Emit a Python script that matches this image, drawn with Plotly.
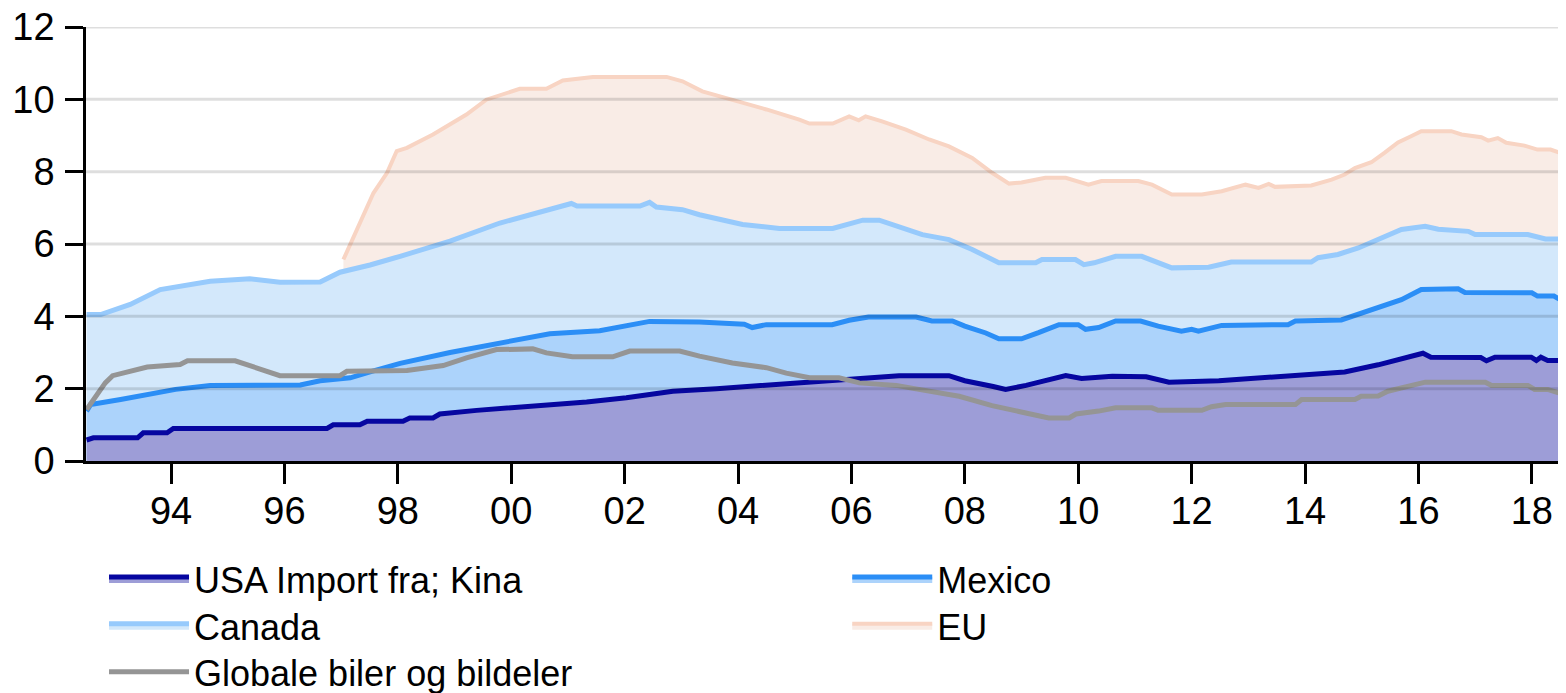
import plotly.graph_objects as go

# ---- data (years as decimal, values in %) ----
china_x = [1992.51, 1992.63, 1993.41, 1993.51, 1993.93, 1994.04, 1996.75, 1996.86, 1997.33, 1997.46,
           1998.09, 1998.21, 1998.62, 1998.74, 1999.39, 2000.5, 2001.33, 2002.03, 2002.44, 2002.85,
           2003.62, 2004.6, 2005.08, 2005.78, 2006.84, 2007.72, 2008.0, 2008.5, 2008.72, 2009.08,
           2009.48, 2009.78, 2010.06, 2010.6, 2011.2, 2011.6, 2012.48, 2013.7, 2014.7, 2015.29,
           2015.7, 2016.08, 2016.22, 2017.1, 2017.2, 2017.35, 2017.99, 2018.08, 2018.16, 2018.28, 2018.5]
china_y = [0.58, 0.64, 0.64, 0.78, 0.78, 0.9, 0.9, 1.0, 1.0, 1.1,
           1.1, 1.19, 1.19, 1.3, 1.4, 1.52, 1.63, 1.75, 1.84, 1.93,
           2.0, 2.1, 2.15, 2.25, 2.36, 2.36, 2.22, 2.06, 1.98, 2.09,
           2.25, 2.36, 2.28, 2.34, 2.33, 2.18, 2.22, 2.34, 2.46, 2.66,
           2.84, 2.98, 2.87, 2.86, 2.77, 2.87, 2.87, 2.78, 2.87, 2.78, 2.78]

mexico_x = [1992.51, 1992.58, 1993.11, 1993.64, 1994.08, 1994.69, 1996.28, 1996.63, 1997.16, 1997.54,
            1998.04, 1998.92, 1999.8, 2000.68, 2001.56, 2002.44, 2003.32, 2004.11, 2004.25, 2004.5,
            2005.66, 2005.96, 2006.3, 2007.14, 2007.42, 2007.78, 2008.0, 2008.37, 2008.6, 2009.0,
            2009.3, 2009.66, 2010.0, 2010.13, 2010.36, 2010.66, 2011.1, 2011.41, 2011.82, 2012.0,
            2012.12, 2012.53, 2013.7, 2013.83, 2014.64, 2014.88, 2015.23, 2015.7, 2016.05, 2016.7,
            2016.82, 2018.0, 2018.1, 2018.39, 2018.5]
mexico_y = [1.38, 1.56, 1.7, 1.84, 1.98, 2.09, 2.1, 2.22, 2.3, 2.48,
            2.7, 3.0, 3.27, 3.52, 3.6, 3.86, 3.84, 3.78, 3.69, 3.77,
            3.77, 3.89, 3.98, 3.98, 3.87, 3.87, 3.73, 3.54, 3.38, 3.38,
            3.55, 3.77, 3.77, 3.64, 3.69, 3.87, 3.87, 3.73, 3.59, 3.64,
            3.59, 3.75, 3.77, 3.87, 3.9, 4.03, 4.23, 4.46, 4.74, 4.76,
            4.66, 4.65, 4.56, 4.56, 4.46]

canada_x = [1992.51, 1992.76, 1993.28, 1993.81, 1994.69, 1995.39, 1995.92, 1996.63, 1996.98, 1997.51,
            1998.04, 1998.92, 1999.8, 2000.68, 2001.06, 2001.16, 2002.27, 2002.44, 2002.56, 2003.02,
            2003.32, 2004.08, 2004.73, 2005.67, 2006.2, 2006.49, 2006.79, 2007.25, 2007.72, 2008.13,
            2008.6, 2009.25, 2009.36, 2009.95, 2010.1, 2010.28, 2010.66, 2011.12, 2011.65, 2012.3,
            2012.7, 2014.11, 2014.23, 2014.58, 2014.94, 2015.29, 2015.7, 2016.12, 2016.35, 2016.88,
            2017.0, 2017.93, 2018.24, 2018.5]
canada_y = [4.05, 4.05, 4.33, 4.74, 4.97, 5.04, 4.94, 4.95, 5.22, 5.42,
            5.66, 6.08, 6.58, 6.95, 7.12, 7.05, 7.05, 7.15, 7.02, 6.95,
            6.81, 6.54, 6.43, 6.43, 6.66, 6.66, 6.49, 6.26, 6.12, 5.85,
            5.48, 5.48, 5.57, 5.57, 5.43, 5.48, 5.66, 5.66, 5.34, 5.36,
            5.5, 5.5, 5.62, 5.71, 5.89, 6.12, 6.4, 6.49, 6.41, 6.35,
            6.26, 6.26, 6.14, 6.14]

eu_x = [1997.04, 1997.3, 1997.57, 1997.81, 1997.98, 1998.16, 1998.62, 1999.21, 1999.56, 2000.15,
        2000.62, 2000.91, 2001.44, 2002.74, 2003.02, 2003.37, 2003.9, 2004.5, 2005.08, 2005.26,
        2005.67, 2005.96, 2006.13, 2006.25, 2006.54, 2006.96, 2007.37, 2007.72, 2008.13, 2008.48,
        2008.78, 2009.0, 2009.42, 2009.78, 2010.18, 2010.41, 2011.06, 2011.3, 2011.65, 2012.18,
        2012.53, 2012.95, 2013.18, 2013.36, 2013.47, 2014.11, 2014.47, 2014.7, 2014.88, 2015.17,
        2015.4, 2015.64, 2015.87, 2016.05, 2016.58, 2016.76, 2017.11, 2017.23, 2017.4, 2017.55,
        2017.87, 2018.1, 2018.33, 2018.5]
eu_y = [5.57, 6.49, 7.41, 7.97, 8.57, 8.66, 9.03, 9.58, 9.99, 10.29,
        10.29, 10.52, 10.62, 10.62, 10.5, 10.22, 9.99, 9.72, 9.44, 9.33,
        9.33, 9.53, 9.42, 9.53, 9.39, 9.16, 8.89, 8.7, 8.38, 7.97,
        7.67, 7.7, 7.83, 7.83, 7.64, 7.74, 7.74, 7.64, 7.37, 7.37,
        7.46, 7.64, 7.55, 7.66, 7.58, 7.62, 7.78, 7.92, 8.1, 8.26,
        8.52, 8.81, 8.98, 9.12, 9.12, 9.03, 8.95, 8.86, 8.93, 8.8,
        8.72, 8.61, 8.61, 8.52]

global_x = [1992.51, 1992.67, 1992.84, 1992.97, 1993.28, 1993.58, 1994.16, 1994.29, 1995.13, 1995.31,
            1995.57, 1995.92, 1996.98, 1997.1, 1998.16, 1998.8, 1999.21, 1999.74, 2000.38, 2000.62,
            2001.08, 2001.79, 2002.09, 2002.97, 2003.32, 2003.9, 2004.5, 2004.85, 2005.26, 2005.78,
            2006.14, 2006.79, 2007.19, 2007.9, 2008.48, 2009.18, 2009.48, 2009.84, 2009.96, 2010.36,
            2010.66, 2011.3, 2011.41, 2012.18, 2012.35, 2012.6, 2013.83, 2013.94, 2014.88, 2014.99,
            2015.29, 2015.46, 2015.76, 2016.12, 2017.18, 2017.29, 2017.93, 2018.05, 2018.28, 2018.5]
global_y = [1.42, 1.79, 2.16, 2.36, 2.48, 2.6, 2.67, 2.77, 2.77, 2.67,
            2.56, 2.36, 2.36, 2.48, 2.5, 2.64, 2.85, 3.08, 3.1, 2.99,
            2.88, 2.88, 3.04, 3.04, 2.9, 2.71, 2.58, 2.43, 2.3, 2.3,
            2.16, 2.09, 1.98, 1.79, 1.53, 1.29, 1.19, 1.19, 1.3, 1.38,
            1.47, 1.47, 1.4, 1.4, 1.5, 1.56, 1.56, 1.7, 1.7, 1.79,
            1.8, 1.93, 2.05, 2.18, 2.18, 2.09, 2.09, 1.98, 1.98, 1.87]

tick_years = [1994, 1996, 1998, 2000, 2002, 2004, 2006, 2008, 2010, 2012, 2014, 2016, 2018]
tick_text = ["94", "96", "98", "00", "02", "04", "06", "08", "10", "12", "14", "16", "18"]
y_ticks = [0, 2, 4, 6, 8, 10, 12]

FONT = "Liberation Sans, Arial, sans-serif"

fig = go.Figure()

fig.add_trace(go.Scatter(x=eu_x, y=eu_y, name="EU", mode="lines", fill="tozeroy",
                         line=dict(color="#f8d4c3", width=4), fillcolor="#f9ece6",
                         legend="legend4"))
fig.add_trace(go.Scatter(x=canada_x, y=canada_y, name="Canada", mode="lines", fill="tozeroy",
                         line=dict(color="#97cafc", width=5), fillcolor="#d3e8fb",
                         legend="legend3"))
fig.add_trace(go.Scatter(x=mexico_x, y=mexico_y, name="Mexico", mode="lines", fill="tozeroy",
                         line=dict(color="#2b8ef6", width=5), fillcolor="#acd3fb",
                         legend="legend2"))
fig.add_trace(go.Scatter(x=china_x, y=china_y, name="USA Import fra; Kina", mode="lines", fill="tozeroy",
                         line=dict(color="#0606a0", width=5), fillcolor="#9d9dd7",
                         legend="legend"))
fig.add_trace(go.Scatter(x=global_x, y=global_y, name="Globale biler og bildeler", mode="lines",
                         line=dict(color="#959595", width=5),
                         legend="legend5"))

# gridlines drawn above the fills
for v in y_ticks[1:]:
    fig.add_shape(type="line", xref="paper", yref="y", x0=0, x1=1, y0=v, y1=v,
                  line=dict(color="rgba(0,0,0,0.13)", width=3), layer="above")

leg_common = dict(orientation="h", xanchor="left", yanchor="middle", bgcolor="rgba(0,0,0,0)",
                  font=dict(family=FONT, size=36, color="#000"), itemwidth=80)

col1, col2 = 0.0122, 0.5154
row1, row2, row3 = -0.272, -0.380, -0.486

# page body has an 8px margin, so the figure is 8px smaller than the window
fig.update_layout(
    width=1558, height=685,
    margin=dict(l=78, r=3, t=19, b=232, autoexpand=False),
    paper_bgcolor="white", plot_bgcolor="white",
    font=dict(family=FONT, size=38, color="#000"),
    showlegend=True,
    legend=dict(x=col1, y=row1, **leg_common),
    legend2=dict(x=col2, y=row1, **leg_common),
    legend3=dict(x=col1, y=row2, **leg_common),
    legend4=dict(x=col2, y=row2, **leg_common),
    legend5=dict(x=col1, y=row3, **leg_common),
    xaxis=dict(range=[1992.5, 2018.55], tickvals=tick_years, ticktext=tick_text,
               showgrid=False, zeroline=False, showline=True, linecolor="#000", linewidth=2.5,
               ticks="outside", ticklen=20, tickwidth=2.5, tickcolor="#000", automargin=False,
               ticklabelstandoff=-5, ticklabeloverflow="allow",
               tickfont=dict(family=FONT, size=38, color="#000")),
    yaxis=dict(range=[0, 12], tickvals=y_ticks, showgrid=False, zeroline=False,
               showline=True, linecolor="#000", linewidth=2.5, automargin=False,
               ticks="outside", ticklen=18, tickwidth=2.5, tickcolor="#000",
               ticklabelstandoff=3, ticklabeloverflow="allow",
               tickfont=dict(family=FONT, size=38, color="#000")),
)

fig.write_html("out.html")
